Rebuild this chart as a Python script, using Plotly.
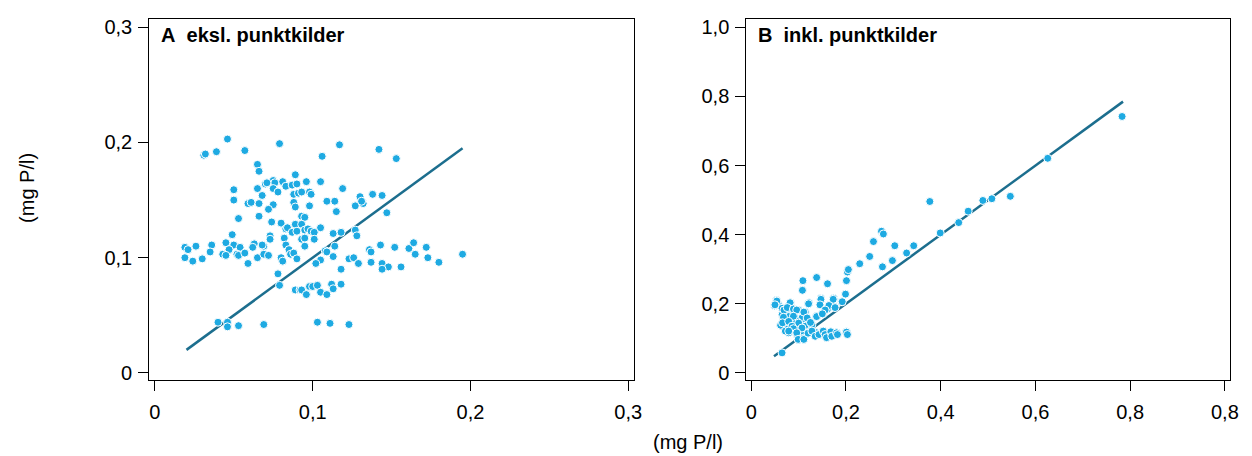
import plotly.graph_objects as go

# ---- Panel A (eksl. punktkilder) ----
a_x = [0.046,0.079,0.117,0.142,0.153,0.031,0.032,0.039,0.057,0.106,0.065,0.066,0.089,0.105,0.096,0.075,0.076,0.081,0.083,0.070,
       0.071,0.065,0.068,0.075,0.078,0.087,0.090,0.088,0.091,0.093,0.098,0.099,0.050,0.050,0.119,0.130,0.138,0.144,0.059,0.061,
       0.066,0.075,0.088,0.089,0.098,0.109,0.114,0.127,0.132,0.131,0.115,0.147,0.072,0.053,0.066,0.093,0.095,0.074,0.080,0.089,
       0.093,0.105,0.083,0.084,0.087,0.090,0.095,0.097,0.099,0.101,0.093,0.095,0.101,0.049,0.073,0.073,0.082,0.113,0.118,0.127,
       0.128,0.045,0.050,0.054,0.047,0.036,0.026,0.019,0.021,0.035,0.019,0.024,0.030,0.043,0.045,0.052,0.053,0.057,0.059,0.063,
       0.062,0.065,0.069,0.068,0.069,0.072,0.083,0.085,0.080,0.081,0.086,0.088,0.090,0.095,0.108,0.109,0.114,0.105,0.102,0.113,
       0.123,0.126,0.129,0.118,0.136,0.137,0.143,0.137,0.144,0.148,0.144,0.152,0.161,0.164,0.165,0.172,0.173,0.156,0.180,0.195,
       0.078,0.079,0.089,0.092,0.093,0.096,0.098,0.100,0.103,0.105,0.109,0.112,0.113,0.118,0.040,0.046,0.046,0.053,0.069,0.103,
       0.111,0.123]
a_y = [0.203,0.199,0.198,0.194,0.186,0.189,0.190,0.192,0.193,0.188,0.181,0.175,0.172,0.166,0.166,0.167,0.165,0.166,0.162,0.164,
       0.165,0.160,0.154,0.160,0.157,0.163,0.164,0.155,0.156,0.157,0.157,0.155,0.159,0.150,0.160,0.153,0.155,0.154,0.147,0.148,
       0.147,0.146,0.148,0.144,0.145,0.149,0.149,0.145,0.147,0.149,0.140,0.139,0.142,0.134,0.136,0.136,0.135,0.131,0.130,0.129,
       0.129,0.126,0.125,0.126,0.122,0.123,0.124,0.125,0.123,0.122,0.116,0.117,0.116,0.120,0.119,0.116,0.117,0.121,0.122,0.124,
       0.119,0.113,0.111,0.109,0.107,0.111,0.110,0.109,0.107,0.105,0.100,0.097,0.099,0.103,0.102,0.103,0.102,0.104,0.095,0.112,
       0.109,0.100,0.110,0.111,0.103,0.102,0.111,0.107,0.100,0.097,0.103,0.104,0.099,0.110,0.106,0.105,0.110,0.098,0.095,0.101,
       0.099,0.100,0.095,0.090,0.107,0.105,0.111,0.096,0.095,0.092,0.090,0.109,0.108,0.113,0.103,0.109,0.100,0.092,0.096,0.103,
       0.086,0.076,0.072,0.072,0.072,0.068,0.075,0.075,0.076,0.070,0.068,0.077,0.073,0.077,0.044,0.044,0.040,0.041,0.042,0.044,
       0.043,0.042]
a_line_x = [0.020, 0.195]
a_line_y = [0.020, 0.195]

# ---- Panel B (inkl. punktkilder) ----
b_x = [0.783,0.626,0.377,0.489,0.508,0.547,0.458,0.438,0.399,0.275,0.279,0.258,0.303,0.343,0.328,0.250,0.229,0.277,0.298,0.203,
       0.205,0.138,0.109,0.161,0.201,0.108,0.199,0.147,0.174,0.191,0.121,0.122,0.145,0.174,0.161,0.151,0.138,0.053,0.049,0.057,
       0.083,0.065,0.072,0.079,0.089,0.100,0.065,0.079,0.093,0.107,0.068,0.082,0.096,0.117,0.065,0.075,0.089,0.103,0.114,0.128,
       0.079,0.096,0.110,0.124,0.138,0.152,0.166,0.180,0.201,0.100,0.110,0.142,0.177,0.054,0.050,0.082,0.121,0.147,0.173,0.145,
       0.192,0.164,0.177,0.156,0.138,0.150,0.114,0.069,0.076,0.089,0.096,0.111,0.089,0.068,0.118,0.062,0.066,0.079,0.100,0.086,
       0.125,0.107,0.089,0.072,0.079,0.096,0.099,0.111,0.120,0.128,0.135,0.143,0.152,0.156,0.159,0.168,0.170,0.180,0.182,0.201,
       0.203,0.065]
b_y = [0.742,0.621,0.496,0.499,0.504,0.511,0.468,0.435,0.405,0.410,0.402,0.380,0.368,0.368,0.347,0.337,0.316,0.307,0.325,0.292,
       0.299,0.276,0.267,0.258,0.267,0.239,0.228,0.216,0.216,0.206,0.201,0.203,0.197,0.192,0.185,0.171,0.164,0.210,0.194,0.199,
       0.203,0.187,0.178,0.187,0.182,0.182,0.168,0.163,0.159,0.159,0.149,0.144,0.149,0.149,0.135,0.126,0.126,0.130,0.135,0.139,
       0.116,0.111,0.119,0.120,0.116,0.111,0.116,0.116,0.119,0.097,0.100,0.111,0.113,0.208,0.197,0.203,0.200,0.213,0.213,0.197,
       0.206,0.195,0.189,0.182,0.163,0.171,0.176,0.182,0.189,0.185,0.182,0.176,0.164,0.161,0.159,0.138,0.145,0.149,0.144,0.135,
       0.146,0.130,0.128,0.121,0.121,0.116,0.097,0.097,0.115,0.121,0.106,0.111,0.121,0.111,0.102,0.119,0.106,0.116,0.111,0.118,
       0.111,0.058]
b_line_x = [0.048, 0.785]
b_line_y = [0.048, 0.785]

# ---- Tick labels ----
a_x_ticks = [0, 0.1, 0.2, 0.3]
a_x_labels = ["0", "0,1", "0,2", "0,3"]
a_y_ticks = [0, 0.1, 0.2, 0.3]
a_y_labels = ["0", "0,1", "0,2", "0,3"]
b_x_ticks = [0, 0.2, 0.4, 0.6, 0.8, 1.0]
b_x_labels = ["0", "0,2", "0,4", "0,6", "0,8", "0,8"]
b_y_ticks = [0, 0.2, 0.4, 0.6, 0.8, 1.0]
b_y_labels = ["0", "0,2", "0,4", "0,6", "0,8", "1,0"]

DOT = "#1eaae2"
LINE = "#1c6e8e"
FONT = "Liberation Sans, Arial, sans-serif"

marker = dict(size=8, color=DOT, line=dict(color="white", width=1))

fig = go.Figure()
fig.add_trace(go.Scatter(x=a_line_x, y=a_line_y, mode="lines", line=dict(color=LINE, width=2.5),
                         xaxis="x", yaxis="y", showlegend=False))
fig.add_trace(go.Scatter(x=a_x, y=a_y, mode="markers", marker=marker, xaxis="x", yaxis="y", showlegend=False))
fig.add_trace(go.Scatter(x=b_line_x, y=b_line_y, mode="lines", line=dict(color=LINE, width=2.5),
                         xaxis="x2", yaxis="y2", showlegend=False))
fig.add_trace(go.Scatter(x=b_x, y=b_y, mode="markers", marker=marker, xaxis="x2", yaxis="y2", showlegend=False))

axis_common = dict(showgrid=False, zeroline=False, showline=True, mirror=True, linecolor="black",
                   linewidth=1, ticks="outside", ticklen=10, tickcolor="black", tickwidth=1,
                   tickfont=dict(family=FONT, size=20, color="black"), tickmode="array")

ydom = [(456 - 382.7) / 456, (456 - 16.7) / 456]
fig.update_layout(
    width=1252, height=456,
    margin=dict(l=0, r=0, t=0, b=0),
    paper_bgcolor="white", plot_bgcolor="white",
    xaxis=dict(domain=[149.3 / 1252, 637.3 / 1252], range=[-0.0036, 0.3035],
               tickvals=a_x_ticks, ticktext=a_x_labels, anchor="y", ticklabelstandoff=4, **axis_common),
    yaxis=dict(domain=ydom, range=[-0.006, 0.3068], tickvals=a_y_ticks, ticktext=a_y_labels,
               anchor="x", ticklabelstandoff=2, **axis_common),
    xaxis2=dict(domain=[750.7 / 1252, 1238.3 / 1252], range=[-0.0105, 1.0117],
                tickvals=b_x_ticks, ticktext=b_x_labels, anchor="y2", ticklabelstandoff=4, **axis_common),
    yaxis2=dict(domain=ydom, range=[-0.02, 1.0228], tickvals=b_y_ticks, ticktext=b_y_labels,
                anchor="x2", ticklabelstandoff=2, **axis_common),
    annotations=[
        dict(text="<b>A\u00a0\u00a0eksl. punktkilder</b>", xref="paper", yref="paper",
             x=159 / 1252, y=1 - 33 / 456, xanchor="left", yanchor="middle", showarrow=False,
             font=dict(family=FONT, size=20, color="black")),
        dict(text="<b>B\u00a0\u00a0inkl. punktkilder</b>", xref="paper", yref="paper",
             x=760.5 / 1252, y=1 - 33 / 456, xanchor="left", yanchor="middle", showarrow=False,
             font=dict(family=FONT, size=20, color="black")),
        dict(text="(mg P/l)", xref="paper", yref="paper", x=26 / 1252, y=1 - 188 / 456,
             xanchor="center", yanchor="middle", textangle=-90, showarrow=False,
             font=dict(family=FONT, size=20, color="black")),
        dict(text="(mg P/l)", xref="paper", yref="paper", x=692 / 1252, y=1 - 446 / 456,
             xanchor="center", yanchor="middle", showarrow=False,
             font=dict(family=FONT, size=20, color="black")),
    ],
)

fig.write_html("out.html")
